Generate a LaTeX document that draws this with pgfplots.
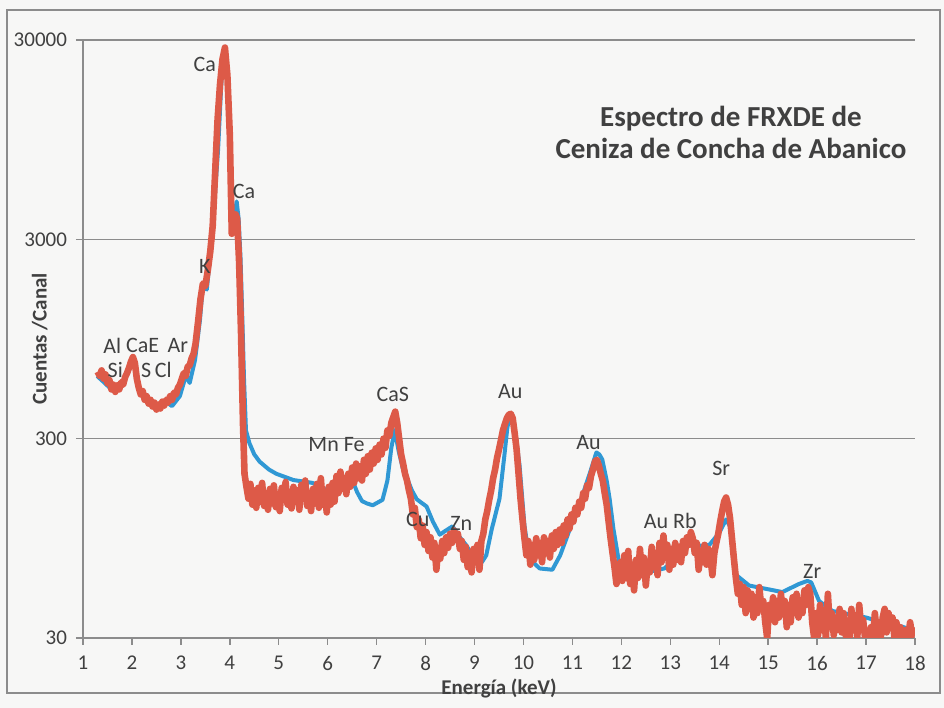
\documentclass[border=0pt]{standalone}
\usepackage{pgfplots}
\pgfplotsset{compat=1.18}
\usepackage{pgfplotstable}
\usepackage{fontspec}
\setmainfont{Carlito}

\definecolor{specred}{RGB}{221,90,72}
\definecolor{specblue}{RGB}{48,152,212}
\definecolor{txt}{RGB}{64,64,64}
\definecolor{axgray}{RGB}{140,140,140}
\definecolor{paper}{RGB}{247,247,246}

% Fitted (smooth) spectrum
\pgfplotstableread{
x y
1.29 618
1.45 569
1.61 521
1.76 552
1.92 643
2.04 757
2.16 512
2.33 457
2.51 427
2.67 463
2.82 437
2.98 491
3.10 619
3.18 571
3.29 746
3.39 1183
3.45 1775
3.53 1680
3.63 2990
3.70 5200
3.76 8450
3.84 21300
3.90 26900
3.96 20100
4.00 9000
4.04 3250
4.09 3900
4.14 4650
4.18 3800
4.22 2380
4.26 1100
4.29 596
4.33 330
4.40 285
4.50 250
4.61 230
4.80 210
4.95 200
5.30 186
5.69 180
5.90 170
6.10 157
6.25 166
6.39 176
6.51 184
6.60 162
6.70 146
6.80 142
6.92 139
7.12 148
7.22 185
7.30 270
7.37 331
7.45 260
7.53 215
7.61 193
7.72 165
7.82 149
8.02 137
8.15 115
8.29 99
8.42 104
8.55 109
8.70 96
8.84 87
9.04 71
9.15 72
9.24 78
9.35 105
9.51 150
9.61 247
9.67 340
9.73 401
9.79 370
9.84 311
9.92 220
10.02 110
10.12 75
10.33 67
10.59 66
10.75 78
10.88 95
11.00 115
11.14 140
11.35 199
11.49 256
11.55 250
11.61 236
11.70 185
11.76 150
11.84 105
11.96 70
12.10 65
12.37 63
12.88 67
13.10 75
13.35 97
13.45 95
13.59 87
13.80 88
14.00 101
14.14 118
14.24 107
14.30 80
14.35 62
14.61 55
15.29 51
15.63 56
15.80 58
15.88 57
16.04 46
16.31 41
17.00 38
17.33 36
17.60 35
17.94 33
}\fitted

% Measured spectrum
\pgfplotstableread{
x y
1.30 650
1.34 620
1.38 660
1.42 600
1.46 630
1.50 570
1.54 590
1.58 530
1.62 560
1.66 515
1.70 555
1.74 530
1.78 575
1.82 560
1.86 610
1.90 640
1.94 680
1.98 730
2.02 770
2.06 720
2.10 600
2.14 540
2.18 500
2.22 520
2.26 470
2.30 490
2.34 450
2.38 470
2.42 435
2.46 455
2.50 420
2.54 445
2.58 425
2.62 460
2.66 440
2.70 470
2.74 455
2.78 490
2.82 470
2.86 510
2.90 500
2.94 540
2.98 560
3.02 600
3.06 640
3.10 620
3.14 690
3.18 700
3.22 760
3.26 800
3.30 900
3.35 1150
3.40 1500
3.45 1800
3.50 1750
3.55 2100
3.60 2600
3.65 3500
3.70 6500
3.75 12000
3.80 18000
3.85 24000
3.90 27500
3.95 20000
4.00 10000
4.04 3200
4.08 3500
4.12 4000
4.15 3800
4.19 2300
4.23 1000
4.27 350
4.30 200
4.34 172
4.38 150
4.42 178
4.46 140
4.50 165
4.54 135
4.58 170
4.62 145
4.66 180
4.70 138
4.74 160
4.78 132
4.82 168
4.86 142
4.90 175
4.94 136
4.98 158
5.02 130
5.06 170
5.10 148
5.14 182
5.18 140
5.22 162
5.26 134
5.30 172
5.34 145
5.38 165
5.42 132
5.46 176
5.50 150
5.54 185
5.58 138
5.62 160
5.66 130
5.70 168
5.74 142
5.78 178
5.82 135
5.86 190
5.90 140
5.94 162
5.98 128
6.02 172
6.06 140
6.10 180
6.14 145
6.18 195
6.22 160
6.26 205
6.30 168
6.34 190
6.38 158
6.42 200
6.46 172
6.50 215
6.54 180
6.58 225
6.62 190
6.66 218
6.70 185
6.74 235
6.78 200
6.82 245
6.86 210
6.90 255
6.94 225
6.98 268
7.02 235
7.06 280
7.10 250
7.14 300
7.18 270
7.22 330
7.26 310
7.30 360
7.34 385
7.38 410
7.42 360
7.46 300
7.50 250
7.54 225
7.58 200
7.62 185
7.66 165
7.70 150
7.74 125
7.78 135
7.82 108
7.86 118
7.90 95
7.94 110
7.98 88
8.02 102
8.06 82
8.10 96
8.14 76
8.18 90
8.22 66
8.26 85
8.30 75
8.34 92
8.38 80
8.42 96
8.46 85
8.50 100
8.54 90
8.58 104
8.62 95
8.66 100
8.70 84
8.74 92
8.78 74
8.82 86
8.86 68
8.90 80
8.94 64
8.98 84
9.02 72
9.06 88
9.10 66
9.14 92
9.18 100
9.22 118
9.26 130
9.30 148
9.34 165
9.38 190
9.42 210
9.46 240
9.50 265
9.54 295
9.58 330
9.62 355
9.66 380
9.70 395
9.74 400
9.78 380
9.82 320
9.86 265
9.90 200
9.94 150
9.98 118
10.02 95
10.06 78
10.10 92
10.14 70
10.18 88
10.22 74
10.26 95
10.30 78
10.34 90
10.38 72
10.42 96
10.46 80
10.50 92
10.54 76
10.58 98
10.62 84
10.66 102
10.70 88
10.74 105
10.78 90
10.82 110
10.86 98
10.90 118
10.94 106
10.98 125
11.02 115
11.06 135
11.10 125
11.14 145
11.18 135
11.22 160
11.26 150
11.30 175
11.34 170
11.38 195
11.42 210
11.46 230
11.50 235
11.54 220
11.58 200
11.62 185
11.66 160
11.70 140
11.74 115
11.78 95
11.82 80
11.86 68
11.90 56
11.94 62
11.98 72
12.02 58
12.06 78
12.10 60
12.14 82
12.18 56
12.22 70
12.26 52
12.30 74
12.34 60
12.38 84
12.42 62
12.46 76
12.50 55
12.54 72
12.58 64
12.62 86
12.66 68
12.70 80
12.74 62
12.78 90
12.82 72
12.86 98
12.90 76
12.94 88
12.98 66
13.02 84
13.06 70
13.10 90
13.14 74
13.18 86
13.22 72
13.26 92
13.30 80
13.34 96
13.38 88
13.42 102
13.46 95
13.50 80
13.54 90
13.58 66
13.62 82
13.66 72
13.70 88
13.74 70
13.78 84
13.82 76
13.86 62
13.90 80
13.94 90
13.98 100
14.02 115
14.06 130
14.10 145
14.14 152
14.18 140
14.22 120
14.26 95
14.30 75
14.34 60
14.38 50
14.42 56
14.46 44
14.50 54
14.54 40
14.58 52
14.62 42
14.66 50
14.70 38
14.74 48
14.78 40
14.82 54
14.86 42
14.90 46
14.94 36
14.98 30
15.02 44
15.06 38
15.10 48
15.14 36
15.18 46
15.22 38
15.26 50
15.30 40
15.34 46
15.38 34
15.42 44
15.46 36
15.50 48
15.54 40
15.58 50
15.62 38
15.66 46
15.70 40
15.74 52
15.78 44
15.82 54
15.86 50
15.90 36
15.94 30
15.98 40
16.02 31
16.06 44
16.10 33
16.14 38
16.18 30
16.22 50
16.26 34
16.30 40
16.34 31
16.38 38
16.42 33
16.46 42
16.50 32
16.54 40
16.58 31
16.62 36
16.66 30
16.70 42
16.74 33
16.78 38
16.82 30
16.86 44
16.90 34
16.94 37
16.98 30
17.02 32
17.06 29
17.10 34
17.14 30
17.18 40
17.22 31
17.26 36
17.30 30
17.34 38
17.38 42
17.42 32
17.46 40
17.50 34
17.54 38
17.58 30
17.62 36
17.66 31
17.70 34
17.74 30
17.78 29
17.82 33
17.86 30
17.90 36
17.94 31
17.98 34
}\measured

\begin{document}
\begin{tikzpicture}[
  lbl/.style={font=\fontsize{11}{13}\selectfont, text=txt, inner sep=0pt},
]
% page background and chart frame
\fill[paper] (-41.5pt,-35pt) rectangle (430.5pt,319pt);
\draw[axgray, line width=0.7pt] (-38pt,-27.5pt) rectangle (428.5pt,314pt);
\begin{axis}[
  at={(0,0)}, anchor=south west,
  scale only axis,
  width=416pt, height=299pt,
  xmin=1, xmax=18,
  ymin=30, ymax=30000,
  ymode=log, log basis y=10,
  xtick={1,...,18},
  ytick={30,300,3000,30000},
  yticklabels={30,300,3000,30000},
  yminorticks=false,
  /pgf/number format/assume math mode=true,
  axis lines*=left,
  axis line style={axgray, line width=0.7pt},
  ymajorgrids,
  grid style={axgray, line width=0.7pt},
  tick style={axgray, line width=0.7pt},
  tick align=outside,
  major tick length=3.5pt,
  ticklabel style={font=\fontsize{10.5}{12}\selectfont, text=txt},
  xticklabel style={yshift=-2pt},
  yticklabel style={xshift=-1pt},
  xlabel={\textbf{Energía (keV)}},
  ylabel={\textbf{Cuentas /Canal}},
  label style={font=\fontsize{10.5}{12}\selectfont, text=txt},
  xlabel style={at={(axis description cs:0.5,0)}, anchor=center, yshift=-25pt},
  ylabel style={at={(axis description cs:-0.052,0.5)}, anchor=center, rotate=0},
]
\addplot[specblue, line width=2pt, line join=round] table[x=x, y=y] {\fitted};
\addplot[specred, line width=3.3pt, line join=round] table[x=x, y=y] {\measured};

\node[lbl] at (axis cs:3.49,22600) {Ca};
\node[lbl] at (axis cs:4.29,5220) {Ca};
\node[lbl] at (axis cs:3.49,2190) {K};
\node[lbl] at (axis cs:1.60,880) {Al};
\node[lbl] at (axis cs:2.22,880) {CaE};
\node[lbl] at (axis cs:2.94,880) {Ar};
\node[lbl] at (axis cs:1.66,660) {Si};
\node[lbl] at (axis cs:2.29,660) {S};
\node[lbl] at (axis cs:2.64,660) {Cl};
\node[lbl] at (axis cs:6.18,279) {Mn Fe};
\node[lbl] at (axis cs:7.33,501) {CaS};
\node[lbl] at (axis cs:9.73,516) {Au};
\node[lbl] at (axis cs:11.33,287) {Au};
\node[lbl] at (axis cs:7.84,118) {Cu};
\node[lbl] at (axis cs:8.73,113) {Zn};
\node[lbl] at (axis cs:13.00,116) {Au Rb};
\node[lbl] at (axis cs:14.04,212) {Sr};
\node[lbl] at (axis cs:15.90,65) {Zr};

\node[font=\bfseries\fontsize{14.5}{16}\selectfont, text=txt, align=center]
  at (axis cs:14.24,10300) {Espectro de FRXDE de\\Ceniza de Concha de Abanico};
\end{axis}
\end{tikzpicture}
\end{document}
